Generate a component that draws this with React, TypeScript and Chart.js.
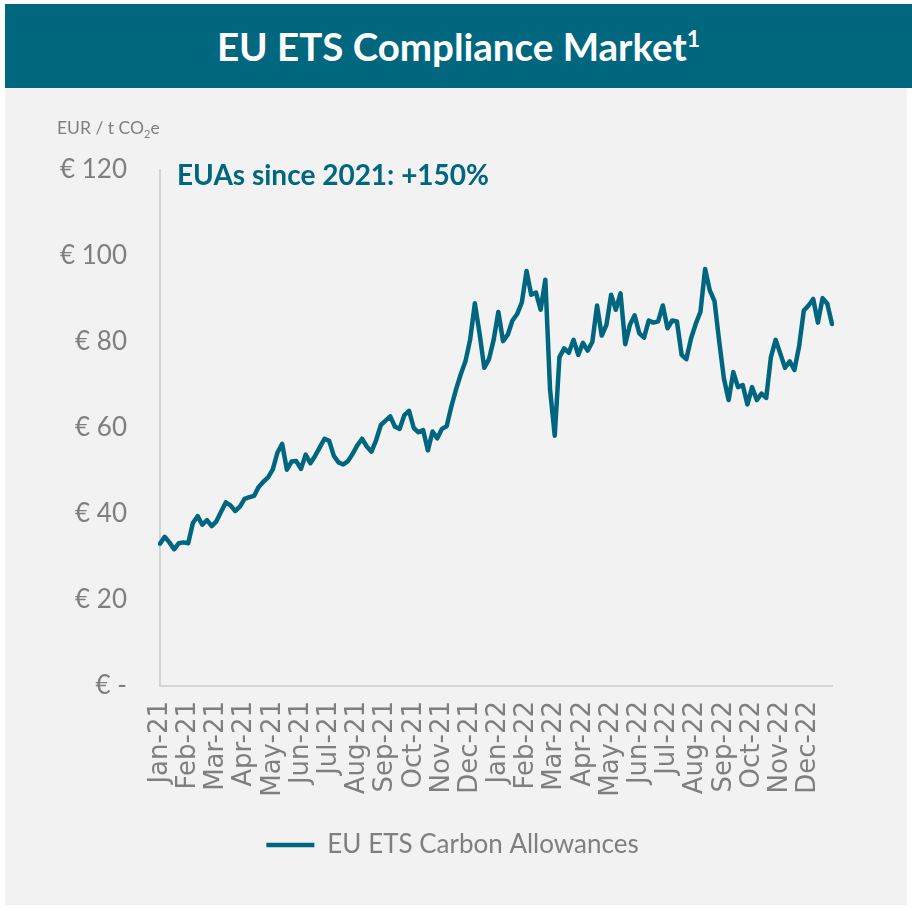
import React, { useEffect, useRef } from "react";
import { Chart, registerables } from "chart.js";

Chart.register(...registerables);

// ---- data ----
const months = [
  "Jan-21", "Feb-21", "Mar-21", "Apr-21", "May-21", "Jun-21", "Jul-21", "Aug-21",
  "Sep-21", "Oct-21", "Nov-21", "Dec-21", "Jan-22", "Feb-22", "Mar-22", "Apr-22",
  "May-22", "Jun-22", "Jul-22", "Aug-22", "Sep-22", "Oct-22", "Nov-22", "Dec-22",
];
const pointsPerMonth = 6;
// EUA price, EUR / t CO2e (6 samples per month)
const euaPrices = [
  33.1, 34.7, 33.4, 31.8, 33.2, 33.4,
  33.2, 37.9, 39.5, 37.5, 38.6, 37.2,
  38.3, 40.5, 42.7, 42.0, 40.7, 41.7,
  43.5, 43.9, 44.2, 46.3, 47.5, 48.5,
  50.4, 54.3, 56.3, 50.3, 52.2, 52.3,
  50.5, 53.8, 51.8, 53.5, 55.5, 57.5,
  57.0, 53.5, 52.0, 51.5, 52.3, 54.0,
  56.0, 57.5, 55.7, 54.5, 57.2, 60.7,
  61.7, 62.7, 60.3, 59.8, 63.0, 64.0,
  60.0, 59.0, 59.5, 54.8, 59.2, 57.6,
  59.8, 60.4, 65.0, 69.0, 72.5, 75.5,
  80.6, 89.0, 82.0, 74.0, 76.0, 80.5,
  87.0, 80.2, 81.7, 85.0, 86.5, 89.2,
  96.5, 91.0, 91.5, 87.5, 94.5, 69.0,
  58.2, 76.5, 78.5, 77.5, 80.5, 77.0,
  79.8, 78.0, 80.0, 88.5, 81.5, 84.0,
  91.0, 87.5, 91.3, 79.5, 84.0, 86.2,
  82.0, 81.0, 85.0, 84.5, 84.8, 88.5,
  83.2, 85.0, 84.8, 77.0, 76.0, 80.8,
  84.2, 87.0, 97.0, 92.0, 89.5, 80.1,
  71.5, 66.5, 73.0, 69.5, 70.0, 65.5,
  69.5, 66.5, 68.0, 67.0, 76.5, 80.5,
  77.3, 74.0, 75.5, 73.5, 79.0, 87.3,
  88.5, 90.0, 84.5, 90.2, 88.9, 84.2,
];
const yMin = 0;
const yMax = 120;
const yStep = 20;

const TEAL = "#00677f";
const LINE = "#006680";
const GRAY = "#7f7f7f";
const AXIS = "#d4d4d4";
const FONT = "Lato, 'Open Sans', sans-serif";

export default function App() {
  const ref = useRef<HTMLCanvasElement | null>(null);

  useEffect(() => {
    if (!ref.current) return;
    const labels = euaPrices.map((_, i) =>
      i % pointsPerMonth === 0 ? months[i / pointsPerMonth] : ""
    );

    const textPlugin = {
      id: "extraText",
      afterLayout(chart: any) {
        const lg = chart.legend;
        if (lg) {
          lg.left += 14;
          lg.right += 14;
        }
      },
      afterDraw(chart: any) {
        const { ctx, chartArea } = chart;
        ctx.save();
        // annotation
        ctx.fillStyle = TEAL;
        ctx.font = `bold 28px ${FONT}`;
        ctx.textAlign = "left";
        ctx.textBaseline = "middle";
        ctx.fillText("EUAs since 2021: +150%", chartArea.left + 17, chartArea.top + 6);
        // unit label
        ctx.fillStyle = GRAY;
        ctx.font = `17.5px ${FONT}`;
        ctx.textBaseline = "alphabetic";
        let x = 52;
        const y = 46;
        const t1 = "EUR / t CO";
        ctx.fillText(t1, x, y);
        x += ctx.measureText(t1).width;
        ctx.font = `11px ${FONT}`;
        ctx.fillText("2", x, y + 4);
        x += ctx.measureText("2").width;
        ctx.font = `17.5px ${FONT}`;
        ctx.fillText("e", x, y);
        ctx.restore();
      },
    };

    const chart = new Chart(ref.current, {
      type: "line",
      data: {
        labels,
        datasets: [
          {
            label: "EU ETS Carbon Allowances",
            data: euaPrices,
            borderColor: LINE,
            backgroundColor: LINE,
            borderWidth: 4.5,
            pointRadius: 0,
            pointStyle: "line",
            tension: 0,
            fill: false,
            borderJoinStyle: "round",
            borderCapStyle: "round",
          },
        ],
      },
      options: {
        animation: false,
        responsive: false,
        maintainAspectRatio: false,
        layout: { padding: { top: 82, right: 75, bottom: 37, left: 40 } },
        plugins: {
          legend: {
            position: "bottom",
            labels: {
              usePointStyle: true,
              pointStyle: "line",
              pointStyleWidth: 48,
              color: GRAY,
              font: { family: FONT, size: 26 },
              padding: 10,
            },
          },
          tooltip: { enabled: false },
          title: { display: false },
        },
        scales: {
          x: {
            grid: { display: false, drawTicks: false },
            border: { color: AXIS, width: 2 },
            ticks: {
              autoSkip: false,
              maxRotation: 90,
              minRotation: 90,
              padding: 15,
              color: GRAY,
              font: { family: "'DejaVu Sans', sans-serif", size: 26 },
            },
            afterFit: (s: any) => {
              s.height = 136;
            },
          },
          y: {
            min: yMin,
            max: yMax,
            grid: { display: false, drawTicks: false },
            border: { color: AXIS, width: 2 },
            ticks: {
              stepSize: yStep,
              padding: 33,
              color: GRAY,
              font: { family: FONT, size: 26 },
              callback: (v: any) => (Number(v) === 0 ? "€ -" : "€ " + v),
            },
            afterFit: (s: any) => {
              s.width = 115;
            },
          },
        },
      },
      plugins: [textPlugin],
    });
    return () => chart.destroy();
  }, []);

  return (
    <div style={{ position: "absolute", left: 0, top: 0, width: 912, height: 908, background: "#ffffff" }}>
      <div
        style={{
          position: "absolute",
          left: 5,
          top: 4,
          width: 907,
          height: 84,
          background: TEAL,
          color: "#ffffff",
          fontFamily: FONT,
          fontWeight: 700,
          fontSize: 38.5,
          display: "flex",
          alignItems: "center",
          justifyContent: "center",
        }}
      >
        <span>
          EU ETS Compliance Market<sup style={{ fontSize: 23, verticalAlign: "super", lineHeight: 0 }}>1</sup>
        </span>
      </div>
      <div style={{ position: "absolute", left: 5, top: 88, width: 902, height: 817, background: "#f2f2f2" }}>
        <canvas ref={ref} width={902} height={817} style={{ display: "block" }} />
      </div>
    </div>
  );
}
